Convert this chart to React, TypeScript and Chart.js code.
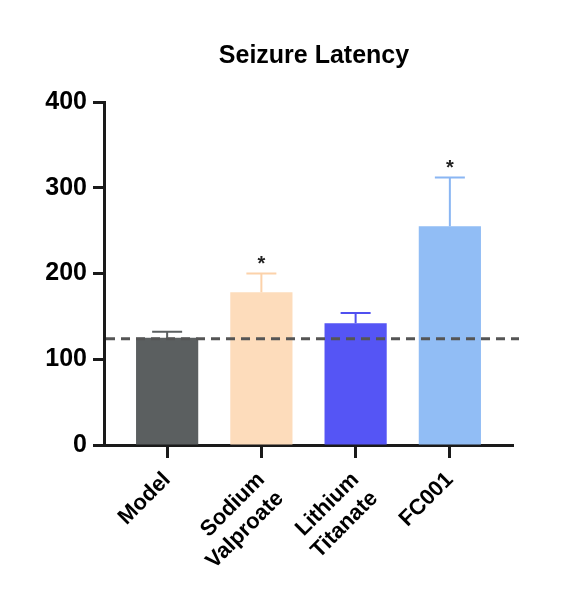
import React, { useEffect, useRef } from "react";
import { Chart, registerables } from "chart.js";

Chart.register(...registerables);

const categories: string[][] = [["Model"], ["Sodium", "Valproate"], ["Lithium", "Titanate"], ["FC001"]];
const means: number[] = [125, 178, 142, 255];
const errors: number[] = [7, 22, 12, 57];
const significant: boolean[] = [false, true, false, true];
const referenceLevel = 124;
const yTicks: number[] = [0, 100, 200, 300, 400];

const barColors = ["#5b5f60", "#fddcbb", "#5555f5", "#91bdf5"];
const errColors = ["#5b5f60", "#fcd2aa", "#5050f0", "#8ab6f3"];
const FONT = "'Liberation Sans', Arial, sans-serif";

const overlayPlugin = {
  id: "overlay",
  afterDatasetsDraw(chart: any) {
    const { ctx, chartArea } = chart;
    const xs = chart.scales.x;
    const ys = chart.scales.y;
    ctx.save();
    // error bars
    means.forEach((m, i) => {
      const x = xs.getPixelForValue(i);
      const y0 = ys.getPixelForValue(m);
      const y1 = ys.getPixelForValue(m + errors[i]);
      ctx.strokeStyle = errColors[i];
      ctx.lineWidth = 2;
      ctx.beginPath();
      ctx.moveTo(x, y0);
      ctx.lineTo(x, y1);
      ctx.moveTo(x - 15, y1);
      ctx.lineTo(x + 15, y1);
      ctx.stroke();
      if (significant[i]) {
        ctx.fillStyle = "#222";
        ctx.font = `bold 20px ${FONT}`;
        ctx.textAlign = "center";
        ctx.textBaseline = "middle";
        ctx.fillText("*", x, y1 - 9);
      }
    });
    // dashed reference line
    const yr = ys.getPixelForValue(referenceLevel);
    ctx.strokeStyle = "#555555";
    ctx.lineWidth = 3;
    ctx.setLineDash([9, 6]);
    ctx.beginPath();
    ctx.moveTo(chartArea.left + 2, yr);
    ctx.lineTo(chartArea.right + 6, yr);
    ctx.stroke();
    ctx.setLineDash([]);
    // title
    ctx.fillStyle = "#000";
    ctx.font = `bold 25px ${FONT}`;
    ctx.textAlign = "center";
    ctx.textBaseline = "middle";
    ctx.fillText("Seizure Latency", 306, 48);
    ctx.restore();
  },
};

export default function App() {
  const ref = useRef<HTMLCanvasElement>(null);
  useEffect(() => {
    if (!ref.current) return;
    const chart = new Chart(ref.current, {
      type: "bar",
      data: {
        datasets: [
          {
            data: means.map((v, i) => ({ x: i, y: v })) as any,
            backgroundColor: barColors,
            borderWidth: 0,
            categoryPercentage: 1,
            barPercentage: 0.66,
          },
        ],
      },
      options: {
        animation: false,
        responsive: true,
        maintainAspectRatio: false,
        layout: { padding: { top: 94, right: 64, bottom: 0, left: 0 } },
        plugins: { legend: { display: false }, tooltip: { enabled: false }, title: { display: false } },
        scales: {
          x: {
            type: "linear",
            offset: false,
            min: -0.67,
            max: 3.67,
            afterBuildTicks(scale: any) {
              scale.ticks = categories.map((_, i) => ({ value: i }));
            },
            afterFit(scale: any) {
              scale.height = 141;
            },
            border: { display: true, width: 3, color: "#1a1a1a" },
            grid: {
              display: true,
              offset: false,
              drawOnChartArea: false,
              drawTicks: true,
              tickLength: 13,
              tickWidth: 3,
              tickColor: "#1a1a1a",
            },
            ticks: {
              autoSkip: false,
              maxRotation: 45,
              minRotation: 45,
              padding: 9,
              color: "#000",
              font: { family: FONT, size: 22, weight: "bold", lineHeight: 1.2 },
              callback: (v: any) => categories[Math.round(Number(v))] ?? "",
            },
          },
          y: {
            min: 0,
            max: 400,
            afterBuildTicks(scale: any) {
              scale.ticks = yTicks.map((v) => ({ value: v }));
            },
            afterFit(scale: any) {
              scale.width = 96;
            },
            border: { display: true, width: 3, color: "#1a1a1a" },
            grid: {
              display: true,
              drawOnChartArea: false,
              drawTicks: true,
              tickLength: 11,
              tickWidth: 3,
              tickColor: "#1a1a1a",
            },
            ticks: {
              padding: 6,
              color: "#000",
              font: { family: FONT, size: 25, weight: "bold" },
            },
          },
        },
      },
      plugins: [overlayPlugin],
    });
    return () => chart.destroy();
  }, []);
  return (
    <div style={{ width: 569, height: 578, position: "relative" }}>
      <canvas ref={ref} />
    </div>
  );
}
